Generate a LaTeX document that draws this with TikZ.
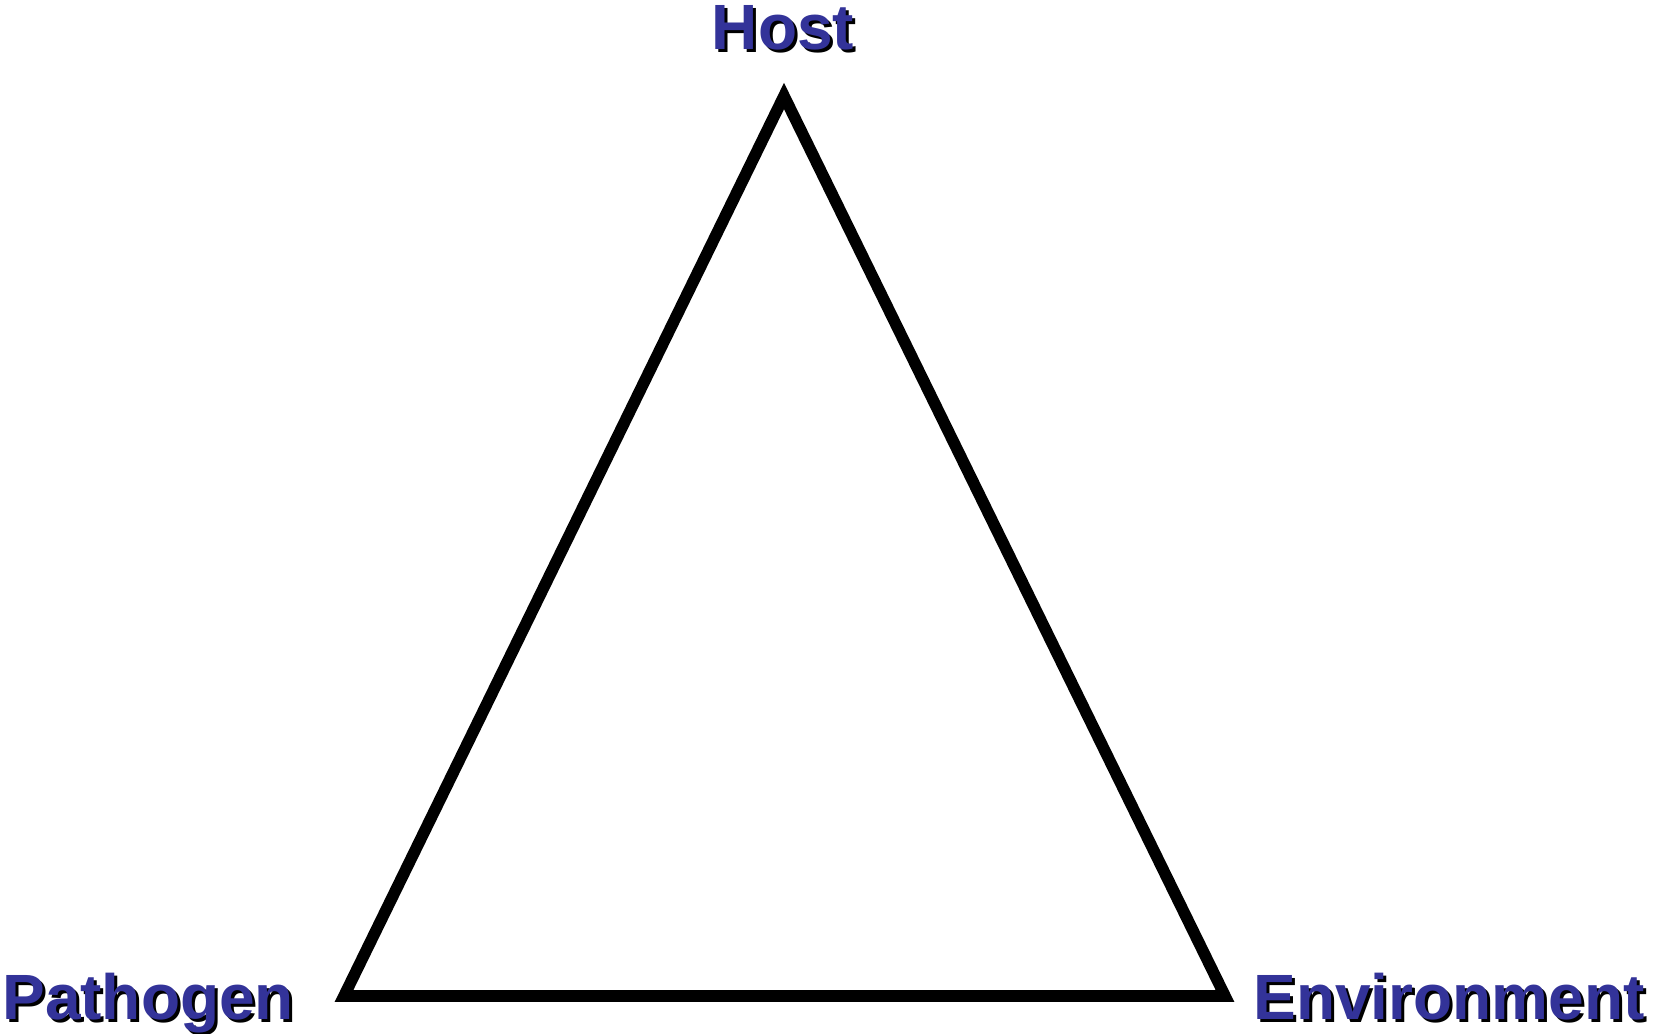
\documentclass[tikz,border=0pt]{standalone}
\usepackage{fontspec}
\setmainfont{Liberation Sans}
\usetikzlibrary{calc}
\definecolor{factor}{HTML}{333399}
\tikzset{
  factorlabel/.style={font=\bfseries\fontsize{32}{38}\selectfont, text=factor, inner sep=0pt},
  shade/.style={factorlabel, text=black},
  side/.style={line width=5.8pt, miter limit=10},
}
% label with a black drop shadow behind it
\newcommand{\triadlabel}[4]{%
  \node[shade, anchor=#3] at ($(#2)+(3,3)$) {#4};
  \node[factorlabel, anchor=#3] (#1) at (#2) {#4};
}

\begin{document}
\begin{tikzpicture}[x=0.5pt, y=-0.5pt]
\useasboundingbox (0,0) rectangle (1653,1033);

%% ---- the triangle ------------------------------------------------------
\coordinate (apex) at (784,96);
\coordinate (left) at (344,996);
\coordinate (right) at (1225,996);
\draw[side] (apex) -- (left) -- (right) -- cycle;

%% ---- the three factors -------------------------------------------------
\triadlabel{host}{783,49}{base}{Host}
\triadlabel{pathogen}{2,1019}{base west}{Pathogen}
\triadlabel{environment}{1645,1019}{base east}{Environment}

\end{tikzpicture}
\end{document}
